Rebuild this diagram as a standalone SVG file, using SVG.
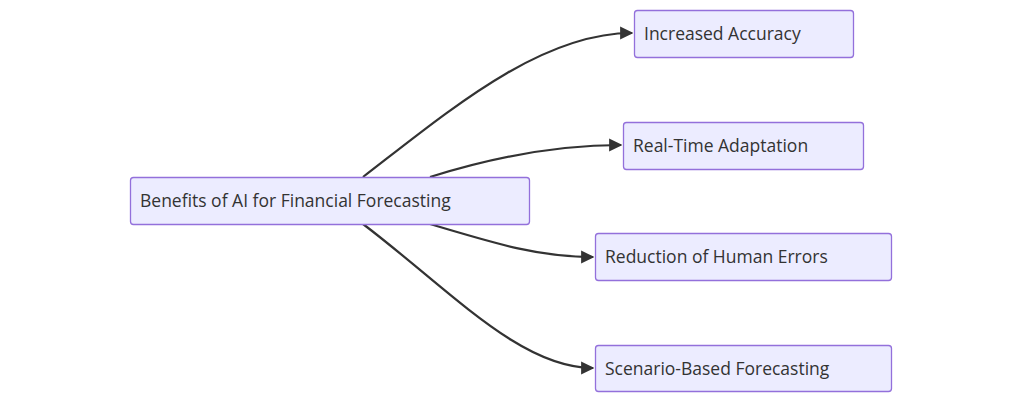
<svg xmlns="http://www.w3.org/2000/svg" width="1024" height="402" viewBox="0 0 1024 402">
<style>
.n rect{fill:#ECECFF;stroke:#9370DB;stroke-width:1.3}
.n text{font-family:"Open Sans",sans-serif;font-size:17.5px;fill:#333}
.e path{fill:none;stroke:#333;stroke-width:2.2}
</style>
<defs><marker id="a" viewBox="0 0 10 10" refX="9" refY="5" markerWidth="6" markerHeight="6" markerUnits="strokeWidth" orient="auto"><path d="M0,0L10,5L0,10z" fill="#333"/></marker></defs>
<rect width="1024" height="402" fill="#fff"/>
<g class="e">
<path d="M363,177C450,110 540,33 632,33" marker-end="url(#a)"/>
<path d="M430,177C500,155 560,145 621,145" marker-end="url(#a)"/>
<path d="M430,224C500,245 540,257 593,257" marker-end="url(#a)"/>
<path d="M363,224C450,290 520,368 593,368" marker-end="url(#a)"/>
</g>
<g id="center" class="n"><rect x="130.5" y="177.5" width="399" height="47" rx="3"/><text x="140" y="207">Benefits of AI for Financial Forecasting</text></g>
<g id="accuracy" class="n"><rect x="634.5" y="10.5" width="219" height="47" rx="3"/><text x="644" y="40">Increased Accuracy</text></g>
<g id="realtime" class="n"><rect x="623.5" y="122.5" width="240" height="47" rx="3"/><text x="633" y="152">Real-Time Adaptation</text></g>
<g id="reduction" class="n"><rect x="595.5" y="233.5" width="296" height="47" rx="3"/><text x="605" y="263">Reduction of Human Errors</text></g>
<g id="scenario" class="n"><rect x="595.5" y="345.5" width="296" height="46" rx="3"/><text x="605" y="375">Scenario-Based Forecasting</text></g>
</svg>
